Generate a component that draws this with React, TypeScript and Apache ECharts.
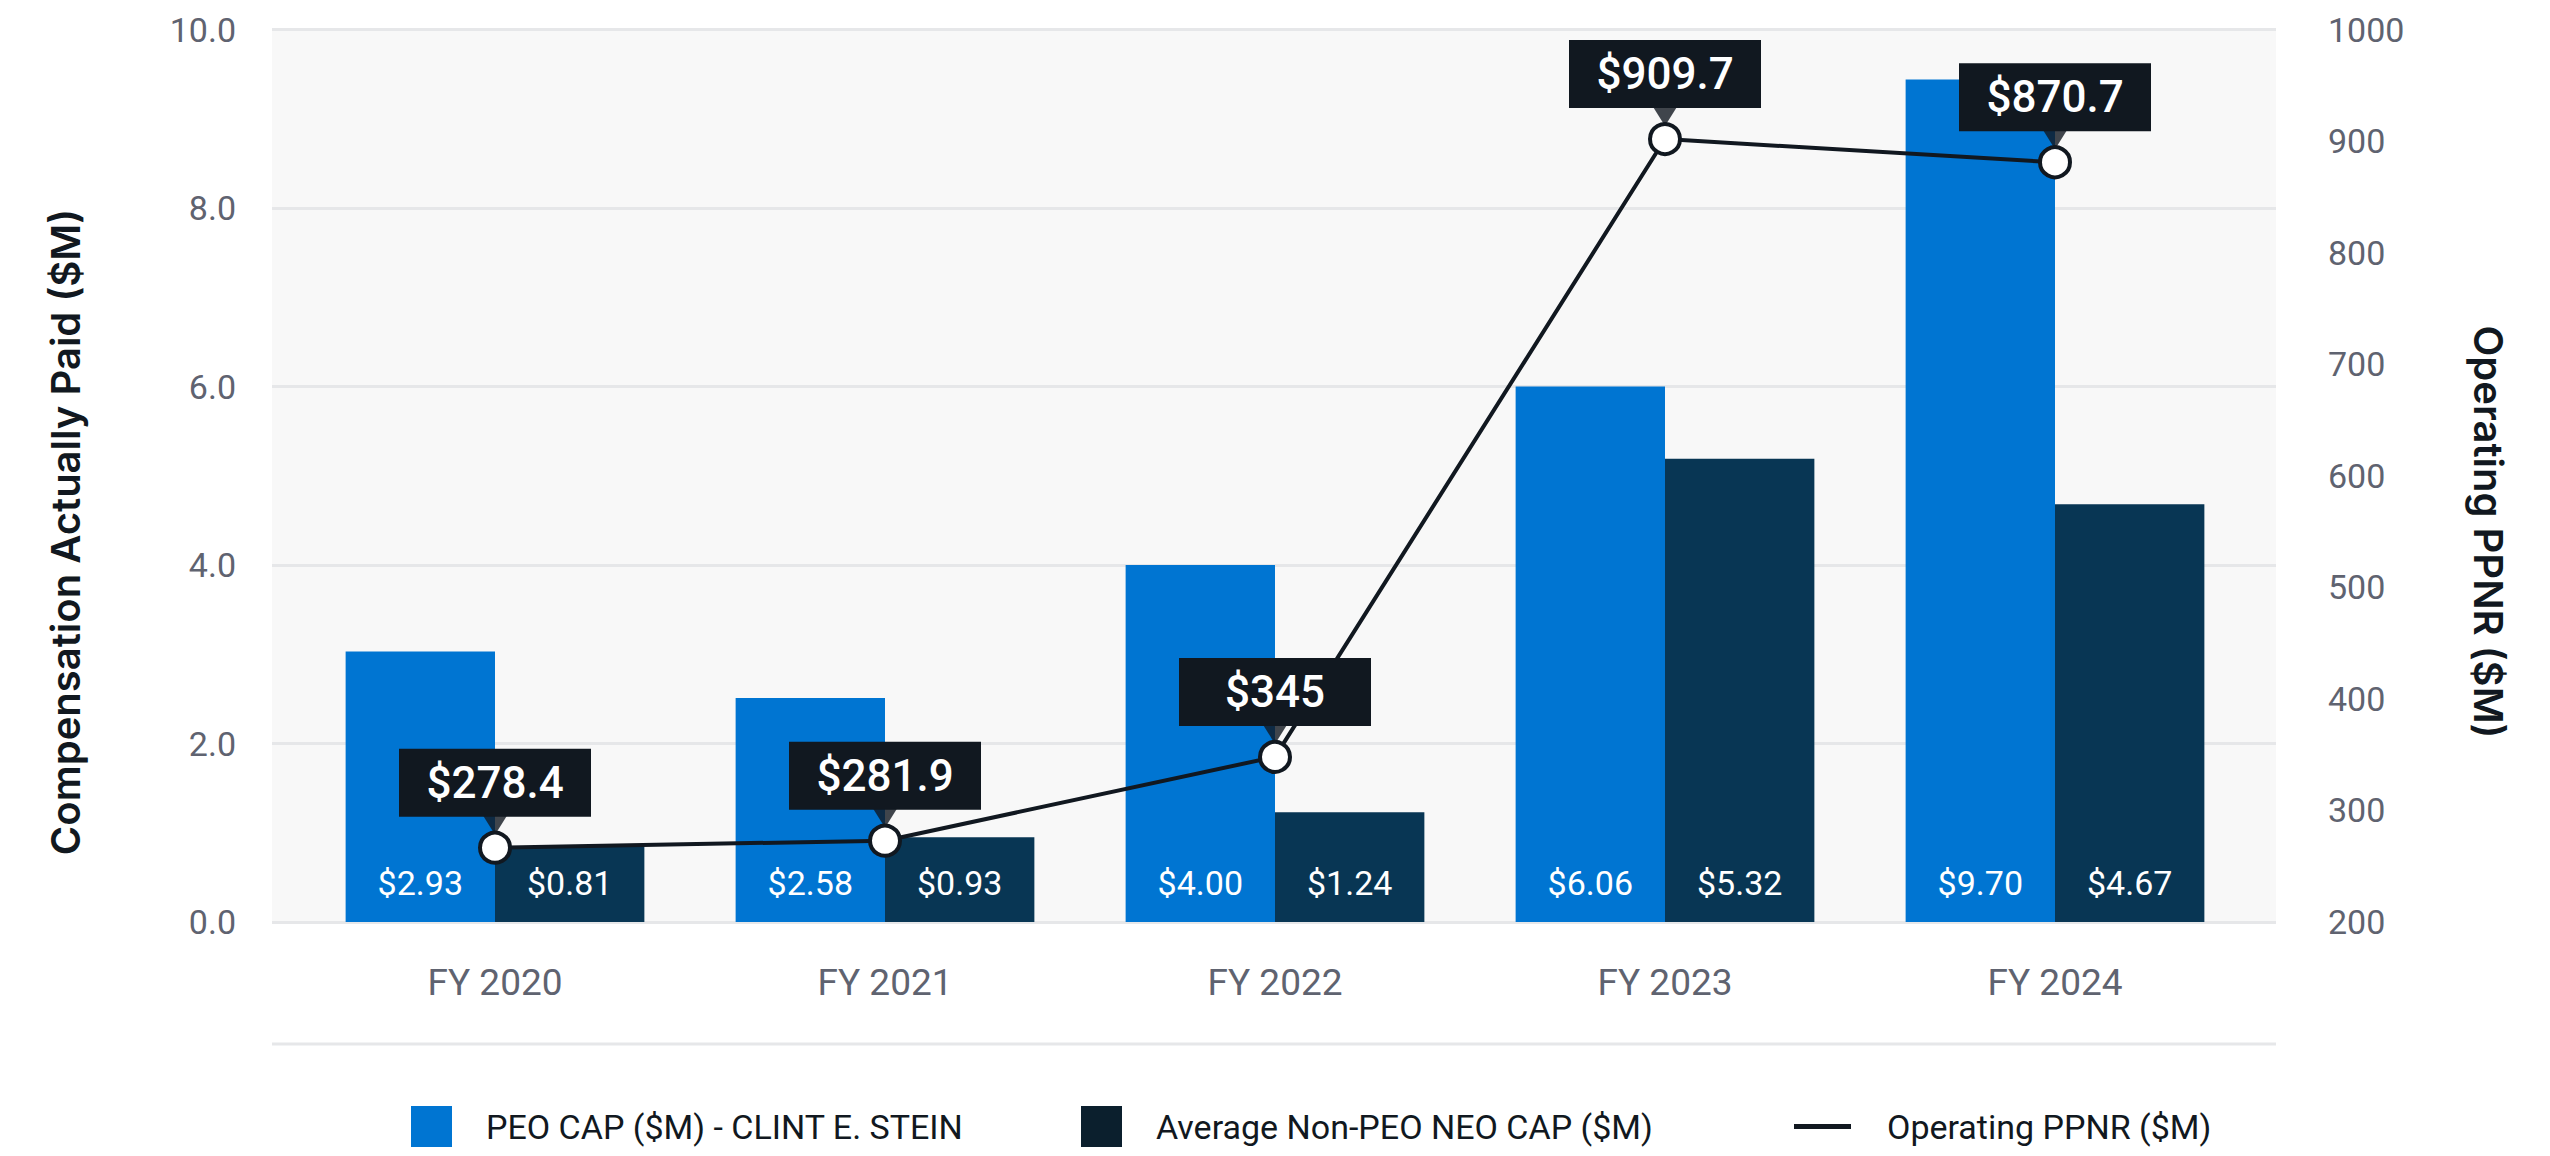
import React, { useEffect, useRef } from "react";
import * as echarts from "echarts";

const categories = ["FY 2020", "FY 2021", "FY 2022", "FY 2023", "FY 2024"];
const peoValues = [3.03, 2.51, 4.0, 6.0, 9.44];
const peoLabels = ["$2.93", "$2.58", "$4.00", "$6.06", "$9.70"];
const neoValues = [0.84, 0.95, 1.23, 5.19, 4.68];
const neoLabels = ["$0.81", "$0.93", "$1.24", "$5.32", "$4.67"];
const ppnrValues = [266.6, 272.9, 348, 901.8, 881];
const ppnrLabels = ["$278.4", "$281.9", "$345", "$909.7", "$870.7"];

const PEO_NAME = "PEO CAP ($M) - CLINT E. STEIN";
const NEO_NAME = "Average Non-PEO NEO CAP ($M)";
const PPNR_NAME = "Operating PPNR ($M)";

const BLUE = "#0075d2";
const NAVY = "#083654";
const INK = "#111820";
const GRAY = "#5f6370";
const FONT = "Roboto, 'Noto Sans', sans-serif";
const TITLE_FONT = "Inter, 'Noto Sans', sans-serif";

export default function App() {
  const ref = useRef<HTMLDivElement>(null);
  useEffect(() => {
    document.body.style.margin = "0";
    const chart = echarts.init(ref.current!, null, { renderer: "svg" });
    const legendText = {
      color: INK,
      fontFamily: FONT,
      fontSize: 34,
      lineHeight: 41,
    };
    chart.setOption({
      animation: false,
      backgroundColor: "#ffffff",
      grid: [
        { left: 272, top: 29.5, width: 2004, height: 892.5, show: true, backgroundColor: "#f8f8f8", borderWidth: 0 },
        { left: 300, top: 29.5, width: 1950, height: 892.5 },
      ],
      xAxis: [
        { type: "value", gridIndex: 0, show: false, min: 0, max: 1 },
        {
          type: "category",
          gridIndex: 1,
          data: categories,
          axisLine: { show: false },
          axisTick: { show: false },
          axisLabel: { color: GRAY, fontFamily: FONT, fontSize: 37, margin: 42 },
        },
      ],
      yAxis: [
        {
          type: "value",
          gridIndex: 0,
          position: "left",
          min: 0,
          max: 10,
          interval: 2,
          axisLine: { show: false },
          axisTick: { show: false },
          splitLine: { show: true, lineStyle: { color: "#e6e7e9", width: 3 } },
          axisLabel: {
            color: GRAY,
            fontFamily: FONT,
            fontSize: 34,
            margin: 36,
            formatter: (v: number) => v.toFixed(1),
          },
        },
        {
          type: "value",
          gridIndex: 0,
          position: "right",
          min: 200,
          max: 1000,
          interval: 100,
          axisLine: { show: false },
          axisTick: { show: false },
          splitLine: { show: false },
          axisLabel: {
            color: GRAY,
            fontFamily: FONT,
            fontSize: 34,
            margin: 52,
            formatter: (v: number) => String(v),
          },
        },
        { type: "value", gridIndex: 1, min: 0, max: 10, show: false, splitLine: { show: false } },
        { type: "value", gridIndex: 1, min: 200, max: 1000, show: false, splitLine: { show: false } },
      ],
      legend: [
        {
          data: [{ name: PEO_NAME, icon: "rect", itemStyle: { color: BLUE } }],
          left: 406,
          top: 1101,
          itemWidth: 41,
          itemHeight: 41,
          selectedMode: false,
          textStyle: { ...legendText, padding: [0, 0, 0, 29] },
        },
        {
          data: [{ name: NEO_NAME, icon: "rect", itemStyle: { color: "#0b1f2d" } }],
          left: 1076,
          top: 1101,
          itemWidth: 41,
          itemHeight: 41,
          selectedMode: false,
          textStyle: { ...legendText, padding: [0, 0, 0, 29] },
        },
        {
          data: [{ name: PPNR_NAME, icon: "rect", itemStyle: { color: INK, borderWidth: 0 } }],
          left: 1789,
          top: 1101,
          itemWidth: 57,
          itemHeight: 5,
          selectedMode: false,
          textStyle: { ...legendText, padding: [0, 0, 0, 31] },
        },
      ],
      graphic: [
        {
          type: "rect",
          shape: { x: 272, y: 1042.5, width: 2004, height: 3 },
          style: { fill: "#e6e7e9" },
          silent: true,
        },
        {
          type: "text",
          x: 65,
          y: 532,
          rotation: Math.PI / 2,
          style: {
            text: "Compensation Actually Paid ($M)",
            fill: INK,
            font: `600 40px ${TITLE_FONT}`,
            textAlign: "center",
            textVerticalAlign: "middle",
          },
        },
        {
          type: "text",
          x: 2488,
          y: 532,
          rotation: -Math.PI / 2,
          style: {
            text: "Operating PPNR ($M)",
            fill: INK,
            font: `600 40px ${TITLE_FONT}`,
            textAlign: "center",
            textVerticalAlign: "middle",
          },
        },
      ],
      series: [
        {
          name: PEO_NAME,
          type: "bar",
          xAxisIndex: 1,
          yAxisIndex: 2,
          data: peoValues,
          barWidth: "38.3%",
          barGap: "0%",
          itemStyle: { color: BLUE },
          z: 2,
          label: {
            show: true,
            position: "insideBottom",
            distance: 22,
            color: "#ffffff",
            fontFamily: FONT,
            fontSize: 34,
            formatter: (p: any) => peoLabels[p.dataIndex],
          },
        },
        {
          name: NEO_NAME,
          type: "bar",
          xAxisIndex: 1,
          yAxisIndex: 2,
          data: neoValues,
          barWidth: "38.3%",
          barGap: "0%",
          itemStyle: { color: NAVY },
          z: 2,
          label: {
            show: true,
            position: "insideBottom",
            distance: 22,
            color: "#ffffff",
            fontFamily: FONT,
            fontSize: 34,
            formatter: (p: any) => neoLabels[p.dataIndex],
          },
        },
        {
          name: "pointer",
          type: "scatter",
          xAxisIndex: 1,
          yAxisIndex: 3,
          data: ppnrValues,
          symbol: "triangle",
          symbolRotate: 180,
          symbolSize: [30, 24],
          symbolOffset: [0, -25],
          itemStyle: { color: INK },
          silent: true,
          z: 3,
        },
        {
          name: PPNR_NAME,
          type: "line",
          xAxisIndex: 1,
          yAxisIndex: 3,
          data: ppnrValues,
          symbol: "circle",
          symbolSize: 30,
          showAllSymbol: true,
          lineStyle: { color: INK, width: 4 },
          itemStyle: { color: "#ffffff", borderColor: INK, borderWidth: 4 },
          z: 4,
          label: {
            show: true,
            position: "top",
            distance: 20,
            offset: [0, -28],
            width: 192,
            height: 68,
            lineHeight: 68,
            align: "center",
            verticalAlign: "middle",
            backgroundColor: INK,
            color: "#ffffff",
            fontFamily: FONT,
            fontWeight: 500,
            fontSize: 44,
            formatter: (p: any) => ppnrLabels[p.dataIndex],
          },
        },
      ],
    });
    return () => chart.dispose();
  }, []);
  return (
    <div
      ref={ref}
      style={{ position: "absolute", left: 0, top: 0, width: 2550, height: 1156 }}
    />
  );
}
